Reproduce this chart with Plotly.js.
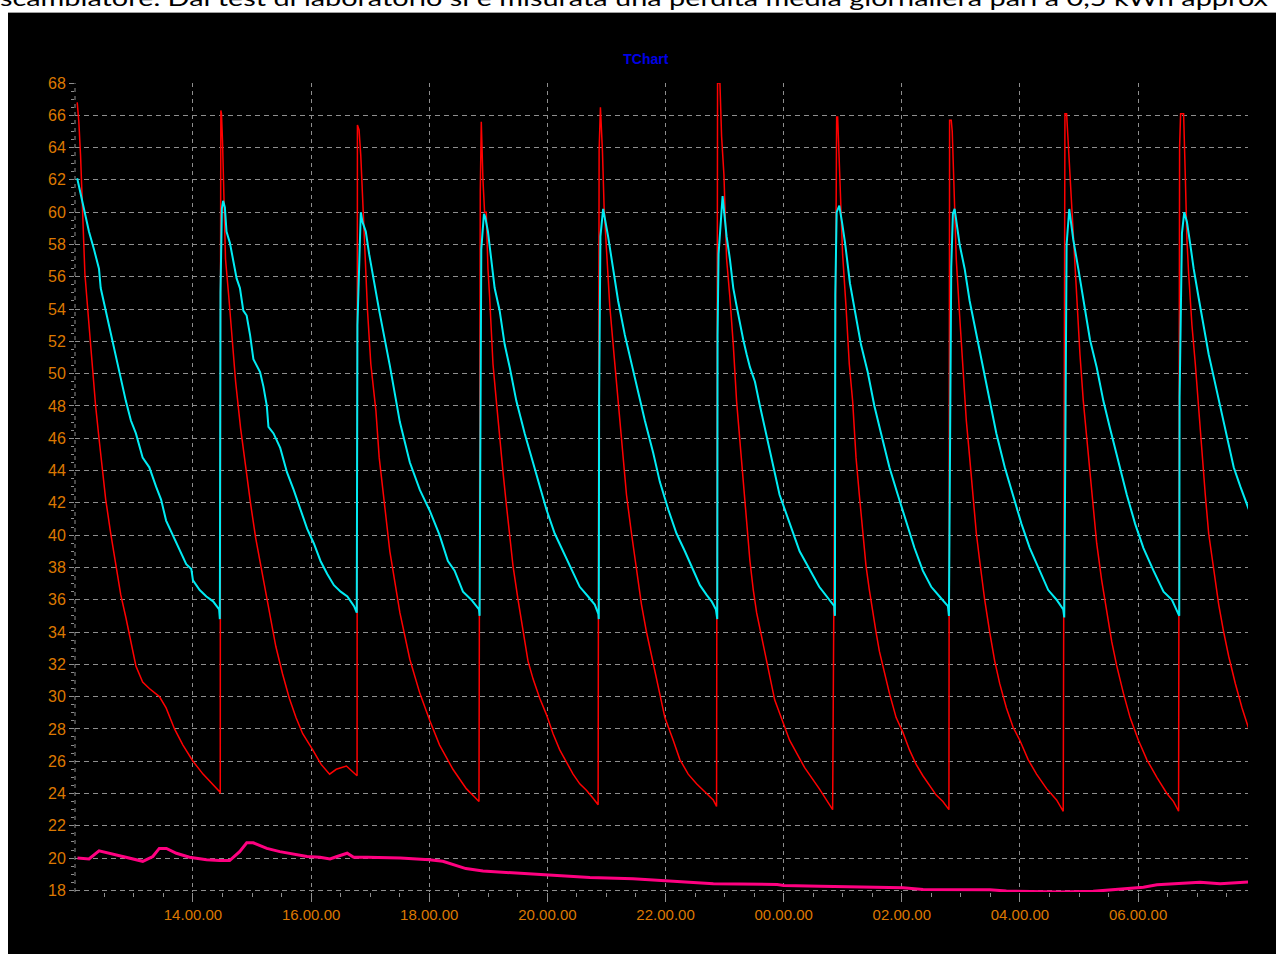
<!DOCTYPE html>
<html>
<head>
<meta charset="utf-8">
<script src="https://cdn.plot.ly/plotly-3.0.1.min.js"></script>
<style>
  html, body { margin: 0; padding: 0; background: #ffffff; width: 1276px; height: 954px; overflow: hidden; }
  #caption { position: absolute; left: 0; top: -13px; white-space: nowrap; font-family: Lato, "Open Sans", sans-serif; font-size: 22px; line-height: 22px; color: #000; transform-origin: 0 0; }
  #chart { position: absolute; left: 8px; top: 12px; width: 1268px; height: 942px; background: #000; border-top: 1px solid #a0a0a0; box-sizing: border-box; }
</style>
</head>
<body>
<div id="caption">scambiatore. Dal test di laboratorio si è misurata una perdita media giornaliera pari a 0,5 kWh approx</div>
<div id="chart"></div>
<script>
// ---- data (time in hours from midnight of day 1; >24 = next day) ----
const redT = [12.040,12.068,12.097,12.125,12.170,12.227,12.295,12.352,12.409,12.466,12.523,12.608,12.693,12.778,12.864,12.949,13.034,13.148,13.261,13.432,13.545,13.688,13.830,14.000,14.170,14.455,
  14.462,14.466,14.472,14.483,14.500,14.517,14.540,14.551,14.608,14.665,14.722,14.807,14.892,14.977,15.063,15.176,15.290,15.403,15.517,15.631,15.744,15.858,16.028,16.170,16.313,16.426,16.597,16.682,16.778,
  16.784,16.812,16.841,16.869,16.898,16.955,17.011,17.097,17.153,17.333,17.503,17.672,17.841,18.010,18.175,18.401,18.627,18.842,
  18.864,18.881,18.909,18.937,18.965,18.994,19.023,19.079,19.136,19.192,19.249,19.305,19.362,19.418,19.503,19.588,19.672,19.757,19.870,19.983,20.096,20.209,20.322,20.435,20.548,20.661,20.774,20.859,
  20.876,20.898,20.932,20.960,21.000,21.056,21.113,21.169,21.226,21.282,21.339,21.424,21.508,21.593,21.678,21.763,21.876,21.989,22.130,22.243,22.384,22.525,22.695,22.808,22.864,
  22.881,22.921,22.949,22.989,23.034,23.090,23.147,23.203,23.260,23.316,23.373,23.429,23.486,23.542,23.848,24.100,24.355,24.602,24.829,
  24.874,24.897,24.914,24.970,24.998,25.055,25.111,25.168,25.225,25.281,25.338,25.394,25.451,25.508,25.564,25.621,25.706,25.791,25.904,26.017,26.130,26.243,26.357,26.470,26.583,26.696,26.798,
  26.809,26.837,26.854,26.894,26.922,26.979,27.035,27.092,27.149,27.205,27.262,27.319,27.403,27.488,27.573,27.658,27.771,27.884,27.998,28.139,28.281,28.451,28.620,28.733,
  28.762,28.790,28.847,28.903,28.960,29.016,29.073,29.130,29.186,29.243,29.299,29.384,29.469,29.554,29.639,29.752,29.865,30.006,30.148,30.318,30.488,30.601,30.686,
  30.703,30.720,30.771,30.799,30.827,30.856,30.912,30.969,31.025,31.082,31.138,31.195,31.280,31.365,31.449,31.534,31.647,31.760,31.874];
const redV = [66.8,65.6,63.5,60.3,56.2,53.6,50.4,48.0,46.0,43.9,42.2,40.1,38.1,36.3,34.9,33.4,31.9,30.9,30.5,30.0,29.3,28.0,27.0,26.0,25.2,24.1,
  24.0,55.0,66.3,66.1,64.4,61.5,59.4,57.1,54.7,51.8,49.5,46.6,44.2,41.9,39.8,37.5,35.2,33.1,31.4,29.9,28.7,27.7,26.7,25.8,25.2,25.5,25.7,25.4,25.1,
  65.4,65.1,63.5,61.2,59.1,53.9,50.6,47.7,44.8,39.0,35.2,32.3,30.2,28.5,27.0,25.5,24.3,23.5,
  61.3,65.6,62.0,60.0,60.0,56.5,54.7,50.6,48.3,46.0,43.9,41.9,40.1,38.1,36.0,34.0,32.2,31.1,29.9,28.9,27.7,26.7,25.9,25.2,24.6,24.2,23.7,23.3,
  63.8,66.5,63.8,60.3,57.7,54.2,51.8,49.5,47.1,44.8,42.5,40.1,37.8,35.7,34.0,32.5,30.5,28.7,27.3,26.1,25.2,24.6,24.0,23.6,23.2,
  68.0,68.0,64.7,62.3,57.1,54.7,51.8,48.3,45.7,43.0,40.7,38.4,36.6,35.2,29.8,27.3,25.6,24.3,23.0,
  55.0,65.9,65.9,60.9,57.4,54.2,50.6,48.3,44.8,42.5,40.1,38.1,36.6,35.2,34.0,32.8,31.4,30.2,28.7,27.8,26.7,25.8,25.1,24.5,23.9,23.5,23.0,
  65.7,65.7,65.0,60.9,57.1,53.6,50.1,47.1,44.8,42.5,40.1,38.4,36.0,34.0,32.2,30.8,29.3,28.1,27.3,26.1,25.2,24.3,23.6,22.9,
  66.1,66.1,62.3,58.0,54.2,51.2,48.3,46.0,43.6,41.3,39.5,37.2,35.2,33.4,31.9,30.2,28.7,27.3,26.1,25.0,24.0,23.5,22.9,
  64.0,66.1,66.1,62.3,58.3,56.2,53.0,50.6,47.7,44.8,42.5,40.1,37.8,35.7,34.0,32.5,30.8,29.3,28.0];

const cyanT = [12.040,12.097,12.153,12.239,12.324,12.409,12.438,12.523,12.608,12.693,12.778,12.864,12.949,13.034,13.148,13.261,13.375,13.460,13.545,13.659,13.773,13.886,13.972,14.000,14.114,14.227,14.341,14.443,14.455,
  14.466,14.489,14.511,14.540,14.568,14.625,14.682,14.739,14.795,14.852,14.909,14.966,15.023,15.136,15.193,15.250,15.278,15.364,15.477,15.591,15.705,15.818,15.932,16.045,16.159,16.273,16.386,16.500,16.614,16.727,16.773,
  16.784,16.841,16.869,16.926,16.983,17.040,17.097,17.153,17.333,17.503,17.672,17.841,18.010,18.175,18.316,18.429,18.571,18.712,18.842,18.853,
  18.864,18.881,18.926,18.948,18.994,19.051,19.107,19.192,19.277,19.362,19.475,19.616,19.729,19.842,19.983,20.124,20.266,20.407,20.548,20.689,20.802,20.864,20.870,
  20.876,20.898,20.944,21.028,21.113,21.198,21.311,21.424,21.537,21.650,21.791,21.904,22.045,22.186,22.328,22.469,22.582,22.695,22.780,22.853,22.876,
  22.881,22.898,22.966,23.034,23.090,23.147,23.203,23.260,23.316,23.373,23.429,23.514,23.599,23.931,24.270,24.602,24.857,24.868,
  24.874,24.897,24.942,24.987,25.043,25.122,25.224,25.309,25.423,25.536,25.649,25.790,25.932,26.085,26.215,26.356,26.498,26.639,26.781,26.798,
  26.809,26.837,26.865,26.894,26.979,27.064,27.149,27.262,27.375,27.488,27.601,27.743,27.884,28.026,28.167,28.337,28.479,28.620,28.733,28.750,
  28.762,28.790,28.835,28.903,28.988,29.073,29.186,29.299,29.413,29.526,29.667,29.809,29.950,30.091,30.261,30.431,30.573,30.686,30.697,
  30.703,30.743,30.782,30.827,30.884,30.941,31.025,31.110,31.195,31.280,31.393,31.506,31.619,31.732,31.874];
const cyanV = [62.1,61.2,60.2,58.8,57.7,56.5,55.3,53.9,52.7,51.1,49.8,48.3,47.1,46.3,44.8,44.2,43.0,42.2,40.9,40.0,39.0,38.2,37.9,37.2,36.6,36.2,35.9,35.4,34.8,
  55.0,60.2,60.7,60.3,58.8,58.1,56.9,55.9,55.3,53.9,53.6,52.4,50.9,50.1,49.2,48.0,46.7,46.3,45.4,43.9,42.8,41.6,40.4,39.5,38.4,37.6,36.9,36.5,36.2,35.6,35.2,
  53.0,60.0,59.4,58.8,57.4,56.2,55.0,53.9,50.5,47.0,44.5,42.8,41.5,40.0,38.4,37.8,36.5,36.0,35.4,35.0,
  44.5,57.7,59.9,59.7,58.8,57.1,55.3,53.9,51.8,50.4,48.3,46.3,44.8,43.3,41.6,40.1,39.0,37.8,36.8,36.2,35.7,35.1,34.8,
  48.2,58.5,60.2,58.5,56.5,54.5,52.4,50.6,48.9,47.1,45.1,43.3,41.6,40.1,39.0,37.8,36.9,36.3,35.9,35.4,34.8,
  52.4,57.4,61.0,58.5,57.1,55.3,54.2,53.0,52.1,51.2,50.4,49.5,48.0,42.5,39.0,36.8,35.6,35.0,
  54.9,60.0,60.4,59.4,58.0,55.6,53.6,51.8,50.1,48.0,46.3,44.2,42.5,40.7,39.2,37.8,36.8,36.2,35.6,35.0,
  42.8,56.6,59.9,60.2,58.0,56.5,54.5,52.4,50.4,48.3,46.3,44.2,42.5,40.7,39.2,37.8,36.6,36.0,35.4,34.9,
  43.2,58.0,60.2,58.3,56.5,54.5,52.1,50.4,48.3,46.6,44.5,42.5,40.7,39.2,37.8,36.5,36.0,35.1,35.0,
  48.5,58.7,60.0,59.4,58.0,56.5,54.7,53.0,51.2,49.8,48.0,46.0,44.2,43.0,41.6];

const pinkT = [12.045,12.24,12.41,12.58,12.75,12.98,13.15,13.32,13.43,13.55,13.72,13.94,14.23,14.45,14.62,14.79,14.91,15.02,15.25,15.47,15.70,15.93,16.15,16.32,16.44,16.61,16.72,16.95,17.51,
  18.00,18.23,18.51,18.62,18.91,19.13,19.58,19.98,20.38,20.72,21.45,21.85,22.24,22.81,23.89,24.00,24.62,25.30,25.56,26.02,26.36,26.98,27.49,27.77,28.68,29.24,29.58,30.09,30.32,30.66,31.05,31.39,31.68,31.87];
const pinkV = [20.0,19.95,20.45,20.3,20.15,19.95,19.8,20.1,20.6,20.6,20.3,20.05,19.9,19.85,19.85,20.4,20.95,20.95,20.6,20.4,20.25,20.1,20.05,19.95,20.1,20.3,20.05,20.05,20.0,
  19.9,19.8,19.45,19.35,19.2,19.15,19.05,18.97,18.9,18.8,18.72,18.62,18.52,18.41,18.37,18.31,18.25,18.22,18.2,18.17,18.06,18.04,18.04,17.96,17.9,17.94,18.04,18.2,18.35,18.41,18.5,18.41,18.48,18.52];

const xRangeHours = [12.003, 31.861];
const yRange = [17.9, 68];

// ---- helpers ----
const BASE = Date.UTC(2015, 2, 10);
function stamp(h) {
  const d = new Date(BASE + Math.round(h * 3600000));
  return d.toISOString().slice(0, 19).replace('T', ' ');
}
const toX = arr => arr.map(stamp);

const gridCol = '#8e8e8e';
const tickCol = '#dc7800';

const traces = [
  { x: toX(redT), y: redV, type: 'scatter', mode: 'lines', line: { color: '#ff0000', width: 1.5 }, hoverinfo: 'skip' },
  { x: toX(cyanT), y: cyanV, type: 'scatter', mode: 'lines', line: { color: '#00ecf4', width: 2 }, hoverinfo: 'skip' },
  { x: toX(pinkT), y: pinkV, type: 'scatter', mode: 'lines', line: { color: '#ff0080', width: 3 }, hoverinfo: 'skip' }
];

const layout = {
  width: 1268, height: 942,
  paper_bgcolor: '#000000', plot_bgcolor: '#000000',
  margin: { l: 67, r: 28, t: 70, b: 63.4 },
  showlegend: false,
  title: { text: '<b>TChart</b>', font: { family: 'Liberation Sans, Arial, sans-serif', size: 14, color: '#0000e6' },
           xref: 'container', yref: 'container', x: 0.503, y: 0.951, xanchor: 'center', yanchor: 'middle' },
  xaxis: {
    type: 'date', range: xRangeHours.map(stamp),
    tick0: stamp(0), dtick: 7200000, tickformat: '%H.%M.%S',
    showgrid: true, gridcolor: gridCol, gridwidth: 1, griddash: '4px,4px',
    ticks: 'outside', ticklen: 9, tickcolor: gridCol, tickwidth: 1,
    tickfont: { family: 'Liberation Sans, Arial, sans-serif', size: 15, color: tickCol },
    minor: { dtick: 1800000, ticks: 'outside', ticklen: 4, tickcolor: gridCol, showgrid: false },
    showline: false, zeroline: false, fixedrange: true
  },
  yaxis: {
    range: yRange, tick0: 18, dtick: 2,
    showgrid: true, gridcolor: gridCol, gridwidth: 1, griddash: '5px,4px',
    ticks: 'outside', ticklen: 5, tickcolor: gridCol, tickwidth: 1,
    tickfont: { family: 'Liberation Sans, Arial, sans-serif', size: 16, color: tickCol },
    minor: { dtick: 0.5, ticks: 'outside', ticklen: 3, tickcolor: gridCol, showgrid: false },
    showline: false, zeroline: false, fixedrange: true
  },
  shapes: [
    { type: 'line', xref: 'paper', yref: 'paper', x0: 0, x1: 0, y0: 0, y1: 1,
      line: { color: gridCol, width: 1, dash: '4px,4px' }, layer: 'below' }
  ]
};

Plotly.newPlot('chart', traces, layout, { staticPlot: true, displayModeBar: false });

// fit caption width to page width
const cap = document.getElementById('caption');
const w = cap.getBoundingClientRect().width;
cap.style.transform = 'scaleX(' + (1268 / w) + ')';
</script>
</body>
</html>
